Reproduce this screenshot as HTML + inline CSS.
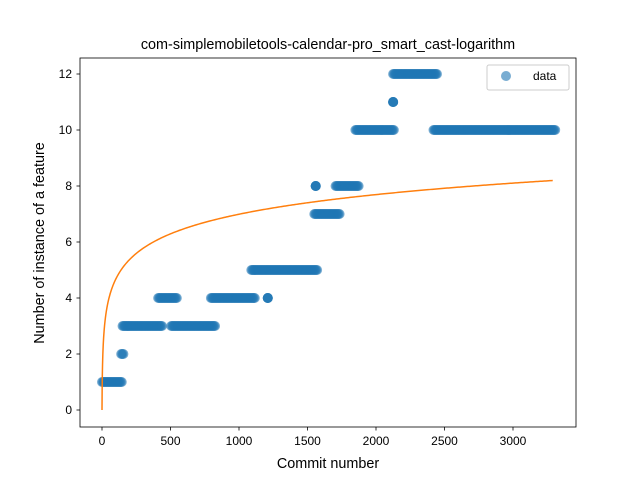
<!DOCTYPE html>
<html><head><meta charset="utf-8"><style>
body{margin:0;background:#fff;}
svg{font-family:"Liberation Sans","DejaVu Sans",sans-serif;}
</style></head><body>
<svg id="chart" width="640" height="480" xmlns="http://www.w3.org/2000/svg">
<rect width="640" height="480" fill="#fff"/>
<text x="328" y="49" text-anchor="middle" font-size="14.4">com-simplemobiletools-calendar-pro_smart_cast-logarithm</text>
<g id="plot"></g>
<rect x="80" y="58" width="496" height="369" fill="none" stroke="#000" stroke-width="0.8"/>
<text x="328" y="468" text-anchor="middle" font-size="14.4">Commit number</text>
<text transform="translate(44,243) rotate(-90)" text-anchor="middle" font-size="14.4">Number of instance of a feature</text>
<g>
<rect x="487" y="65" width="82" height="25" rx="2" fill="#fff" stroke="#ccc"/>
<circle cx="506" cy="76" r="5" fill="#1f77b4" fill-opacity="0.6"/>
<text x="533" y="80" font-size="12">data</text>
</g>
</svg>
<script>
const segStart=[0,140,150,410,505,795,1090,1210,1560,1550,1705,1850,2125,2125,2420];
const segEnd  =[150,160,445,550,830,1115,1575,1210,1560,1735,1880,2130,2125,2445,3310];
const segValue=[1,2,3,4,3,4,5,4,8,7,8,10,11,12,10];
const xTicks=[0,500,1000,1500,2000,2500,3000];
const yTicks=[0,2,4,6,8,10,12];
const fitA=0, fitB=1.012, fitMaxX=3290;
const X=v=>102+v*0.137, Y=v=>410-v*28;
const NS="http://www.w3.org/2000/svg";
const svg=document.getElementById('chart'), g=document.getElementById('plot');
function mk(t,a){const e=document.createElementNS(NS,t);for(const k in a)e.setAttribute(k,a[k]);return e;}
xTicks.forEach(t=>{
 const l=mk('line',{x1:X(t),x2:X(t),y1:427,y2:430.5,stroke:'#000','stroke-width':0.8});
 
 
 svg.appendChild(l);
 const tx=mk('text',{x:X(t),y:445,'text-anchor':'middle','font-size':12});tx.textContent=t;
 
 
 svg.appendChild(tx);
});
yTicks.forEach(t=>{
 const l=mk('line',{x1:76.5,x2:80,y1:Y(t),y2:Y(t),stroke:'#000','stroke-width':0.8});
 
 
 svg.appendChild(l);
 const tx=mk('text',{x:72,y:Y(t)+4,'text-anchor':'end','font-size':12});tx.textContent=t;
 
 
 svg.appendChild(tx);
});
segStart.forEach((s,i)=>{
 const e=segEnd[i];
 if(e===s){
  for(let k=0;k<4;k++){
   const c=mk('circle',{cx:X(s),cy:Y(segValue[i]),r:5,fill:'#1f77b4','fill-opacity':0.6});
   
   
   g.appendChild(c);
  }
  return;
 }
 for(let x=s;x<=e;x+=8){
  const c=mk('circle',{cx:X(x),cy:Y(segValue[i]),r:5,fill:'#1f77b4','fill-opacity':0.6});
  
  
  g.appendChild(c);
 }
});
let d='';
for(let x=0;x<=fitMaxX;x+=(x<50?1:10)){d+=(d?'L':'M')+X(x).toFixed(2)+','+Y(fitA+fitB*Math.log(x+1)).toFixed(2);}
const p=mk('path',{d:d,fill:'none',stroke:'#ff7f0e','stroke-width':1.5});


g.appendChild(p);
</script>
</body></html>
